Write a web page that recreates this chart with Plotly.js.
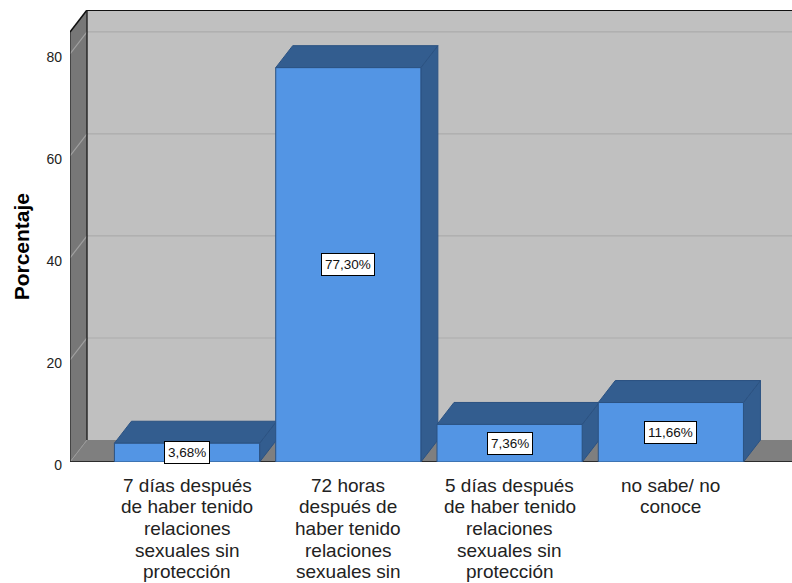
<!DOCTYPE html>
<html>
<head>
<meta charset="utf-8">
<script src="https://cdn.plot.ly/plotly-3.0.1.min.js"></script>
<style>html,body{margin:0;padding:0;background:#fff;}#chart{width:792px;height:583px;}</style>
</head>
<body>
<div id="chart"></div>
<script>
// ---- data ----
const categories = [
  "7 días después\nde haber tenido\nrelaciones\nsexuales sin\nprotección",
  "72 horas\ndespués de\nhaber tenido\nrelaciones\nsexuales sin\nprotección",
  "5 días después\nde haber tenido\nrelaciones\nsexuales sin\nprotección",
  "no sabe/ no\nconoce"
];
const percentages = [3.68, 77.30, 7.36, 11.66];
const valueLabels = ["3,68%", "77,30%", "7,36%", "11,66%"];
const yTicks = [0, 20, 40, 60, 80];
const yTitle = "Porcentaje";

// ---- style / geometry constants ----
const FONT = "Liberation Sans, Arial, sans-serif";
const X0 = -0.7254, X1 = 3.751;      // x range (category units)
const YMAX = 88.6;                    // y range top
const DX = 0.1054, DY = 4.31;         // depth offset (data units)
const WALL_TOP = YMAX - DY;
const BW = 0.9;                       // bar width
const FRONT = "#5395e4", DARK = "#335d8f", EDGE = "#2b5282";
const LABEL_FIRST = 23, LABEL_PITCH = 21.7; // px below axis for category label lines

const xs = categories.map((_, i) => i);
const shapes = [];
function poly(pts, fill, line, lw, layer) {
  let p = "M" + pts.map(q => q[0] + "," + q[1]).join(" L") + " Z";
  shapes.push({type: "path", path: p, xref: "x", yref: "y", fillcolor: fill,
               line: {color: line, width: lw}, layer: layer || "below"});
}
function seg(x0, y0, x1, y1, color, w, layer) {
  shapes.push({type: "line", xref: "x", yref: "y", x0, y0, x1, y1,
               line: {color, width: w}, layer: layer || "below"});
}
// back wall
poly([[X0 + DX, DY], [X0 + DX, YMAX], [X1 + 1, YMAX], [X1 + 1, DY]], "#c0c0c0", "rgba(0,0,0,0)", 0);
// back gridlines
yTicks.filter(t => t > 0).forEach(t => seg(X0 + DX, t + DY, X1 + 1, t + DY, "#ababab", 1.2));
// left wall
poly([[X0, 0], [X0, WALL_TOP], [X0 + DX, YMAX], [X0 + DX, DY]], "#777777", "rgba(0,0,0,0)", 0);
yTicks.filter(t => t > 0).forEach(t => seg(X0, t, X0 + DX, t + DY, "#a0a0a0", 1.2));
// floor
poly([[X0, 0], [X0 + DX, DY], [X1 + 1, DY], [X1 + 1, 0]], "#7f7f7f", "rgba(0,0,0,0)", 0);
seg(X0, 0, X0 + DX, DY, "#999999", 1);
// outlines
seg(X0, 0, X1 + 1, 0, "#111", 1.6);
seg(X0, 0, X0, WALL_TOP, "#222", 1.2);
seg(X0, WALL_TOP, X0 + DX, YMAX, "#111", 1.6);
seg(X0 + DX, DY, X0 + DX, YMAX, "#222", 1.4);
seg(X0 + DX, YMAX, X1 + 1, YMAX, "#111", 2);
// bar 3D faces (top and side), computed from data
xs.forEach((x, i) => {
  const v = percentages[i], l = x - BW / 2, r = x + BW / 2;
  poly([[r, 0], [r, v], [r + DX, v + DY], [r + DX, DY]], DARK, EDGE, 1);
  poly([[l, v], [l + DX, v + DY], [r + DX, v + DY], [r, v]], DARK, EDGE, 1);
});

const annotations = xs.map((x, i) => ({
  x: x, y: percentages[i] / 2, xref: "x", yref: "y", text: valueLabels[i],
  showarrow: false, bgcolor: "#ffffff", bordercolor: "#000000", borderwidth: 1,
  borderpad: 3, font: {family: FONT, size: 13.5, color: "#111"}
}));
// category labels, one annotation per line (tight line pitch as in the reference)
xs.forEach((x, i) => {
  categories[i].split("\n").forEach((line, k) => {
    annotations.push({
      x: x, y: 0, xref: "x", yref: "paper", text: line, showarrow: false,
      xanchor: "center", yanchor: "middle", yshift: -(LABEL_FIRST + LABEL_PITCH * k),
      font: {family: FONT, size: 19, color: "#222"}
    });
  });
});
// y axis title, centred on the front wall
annotations.push({
  x: -0.066, xref: "paper", y: WALL_TOP / 2, yref: "y", text: "<b>" + yTitle + "</b>",
  textangle: -90, showarrow: false, xanchor: "center", yanchor: "middle",
  font: {family: FONT, size: 21, color: "#000"}
});

const trace = {
  type: "bar", x: xs, y: percentages, width: BW,
  marker: {color: FRONT, line: {color: EDGE, width: 1}},
  hoverinfo: "skip"
};

const layout = {
  width: 792, height: 583,
  margin: {l: 70, r: 0, t: 10, b: 121, pad: 0},
  paper_bgcolor: "#ffffff", plot_bgcolor: "#ffffff",
  showlegend: false,
  font: {family: FONT, color: "#222"},
  xaxis: {
    range: [X0, X1], tickmode: "array", tickvals: xs,
    showticklabels: false,
    showgrid: false, zeroline: false, showline: false, ticks: "",
    automargin: false, fixedrange: true
  },
  yaxis: {
    range: [0, YMAX], tickmode: "array", tickvals: yTicks,
    showgrid: false, zeroline: false, showline: false, ticks: "",
    ticklabelstandoff: 7, ticklabelshift: 3,
    tickfont: {size: 14, color: "#222"}, automargin: false, fixedrange: true
  },
  shapes: shapes,
  annotations: annotations
};

Plotly.newPlot("chart", [trace], layout, {displayModeBar: false, staticPlot: true});
</script>
</body>
</html>
